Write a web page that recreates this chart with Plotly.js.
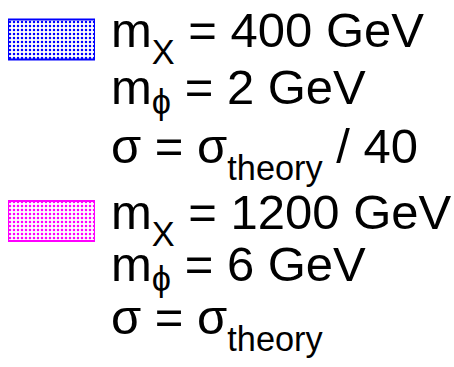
<!DOCTYPE html>
<html>
<head>
<meta charset="utf-8">
<script src="https://cdn.plot.ly/plotly-3.0.1.min.js"></script>
<style>
  html, body { margin: 0; padding: 0; background: #fff; }
  #legendPlot { width: 454px; height: 367px; }
</style>
</head>
<body>
<div id="legendPlot"></div>
<script>
// legend entries: one swatch + three lines of text each
var entries = ['sig400', 'sig1200'];
var massX = [400, 1200];
var massPhi = [2, 6];
var xsecScale = [' / 40', ''];
var swatchColors = ['#0000ff', '#ff00ff'];

var W = 454, H = 367;

// baselines of the text lines (px from top), per entry
var lineBaselines = [[51, 108, 167], [233, 285, 338]];

function py(px) { return 1 - px / H; }

// plotly <sub>, optionally pushed a bit lower like the ROOT legend
function sub(s, shift) {
  if (!shift) return '<sub>' + s + '</sub>';
  return '<sub><span style="baseline-shift:-' + shift + 'em">' + s + '</span></sub>';
}

// swatches as horizontal bars on a hidden category axis
var data = entries.map(function (name, i) {
  return {
    type: 'bar',
    orientation: 'h',
    y: [name],
    x: [1],
    width: 0.22,
    showlegend: false,
    hoverinfo: 'skip',
    marker: {
      color: '#ffffff',
      line: { color: swatchColors[i], width: 2 },
      pattern: { shape: '.', fgcolor: swatchColors[i], bgcolor: '#ffffff', size: 4, solidity: 0.3 }
    }
  };
});

var annotations = [];
entries.forEach(function (name, i) {
  var lines = [
    'm' + sub('X', 0.2) + ' = ' + massX[i] + ' GeV',
    'm' + sub('ϕ') + ' = ' + massPhi[i] + ' GeV',
    'σ = σ' + sub('theory', 0.2) + xsecScale[i]
  ];
  lines.forEach(function (txt, j) {
    annotations.push({
      xref: 'paper', yref: 'paper',
      x: 109 / W, y: py(lineBaselines[i][j] - 50),
      xanchor: 'left', yanchor: 'top',
      showarrow: false,
      text: txt,
      font: { family: 'Liberation Sans, Arial, sans-serif', size: 49, color: '#000000' }
    });
  });
});

// 1 category unit = 181.5 px; first swatch centred at 39.5 px
var unit = 181.5, c0 = 39.5;

var layout = {
  width: W,
  height: H,
  margin: { l: 0, r: 0, t: 0, b: 0 },
  paper_bgcolor: '#ffffff',
  plot_bgcolor: '#ffffff',
  showlegend: false,
  bargap: 0,
  xaxis: { domain: [8 / W, 95 / W], range: [0, 1], visible: false, fixedrange: true },
  yaxis: {
    type: 'category',
    categoryorder: 'array',
    categoryarray: entries,
    range: [(H - c0) / unit, -c0 / unit],
    visible: false,
    fixedrange: true
  },
  annotations: annotations
};

Plotly.newPlot('legendPlot', data, layout, { displayModeBar: false, staticPlot: true });
</script>
</body>
</html>
